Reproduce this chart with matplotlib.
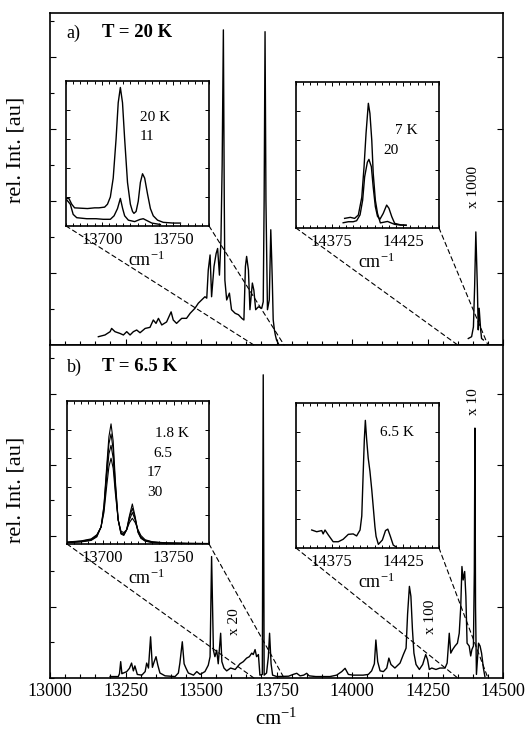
import matplotlib
matplotlib.use('Agg')
import matplotlib.pyplot as plt
from matplotlib.patches import ConnectionPatch
from matplotlib.ticker import MultipleLocator

plt.rcParams['font.family'] = ['Liberation Serif', 'DejaVu Serif']
plt.rcParams['mathtext.fontset'] = 'custom'
plt.rcParams['mathtext.rm'] = 'Liberation Serif'
plt.rcParams['mathtext.it'] = 'Liberation Serif:italic'

# ---- panel a) T = 20 K, main spectrum
a_x = [13160, 13182, 13199, 13204, 13215, 13232, 13243, 13254, 13265, 13276,
       13287, 13298, 13315, 13331, 13342, 13351, 13359, 13370, 13386, 13401,
       13408, 13419, 13436, 13452, 13464, 13480, 13491, 13502, 13513, 13519,
       13524, 13530, 13535, 13543, 13550, 13555, 13561, 13566, 13570, 13574,
       13577, 13579, 13585, 13594, 13601, 13613, 13624, 13635, 13642, 13647,
       13651, 13657, 13662, 13670, 13675, 13681, 13690, 13701, 13706, 13709,
       13712, 13715, 13720, 13726, 13729, 13731, 13734, 13736, 13739, 13743,
       13746, 13750, 13756]
a_y = [0.115, 0.139, 0.185, 0.23, 0.185, 0.16, 0.139, 0.185, 0.139, 0.185,
       0.208, 0.17, 0.23, 0.245, 0.347, 0.30, 0.37, 0.278, 0.32, 0.46,
       0.347, 0.30, 0.37, 0.37, 0.44, 0.51, 0.58, 0.625, 0.67, 0.65,
       1.04, 1.25, 0.67, 1.09, 1.27, 1.34, 0.97, 1.46, 2.5, 4.375,
       2.0, 0.9, 0.625, 0.72, 0.49, 0.44, 0.42, 0.37, 0.347, 1.09,
       1.23, 1.04, 0.49, 0.86, 0.76, 0.49, 0.53, 0.51, 0.60, 2.0,
       4.35, 2.0, 0.49, 0.625, 1.2, 1.6, 1.2, 0.9, 0.35, 0.21,
       0.14, 0.07, 0.02]
# x 1000 part
a_hi_x = [14385, 14396, 14402, 14406, 14410, 14415, 14418, 14421, 14426, 14429, 14435]
a_hi_y = [0.09, 0.115, 0.25, 0.81, 1.57, 0.81, 0.21, 0.51, 0.21, 0.09, 0.07]

# ---- panel b) T = 6.5 K, main spectrum
b_x = [13199, 13226, 13230, 13234, 13238, 13241, 13254, 13263, 13270, 13276,
       13281, 13289, 13304, 13315, 13320, 13326, 13333, 13339, 13345, 13351,
       13357, 13364, 13381, 13414, 13425, 13430, 13438, 13444, 13450, 13458,
       13475, 13486, 13497, 13513, 13524, 13530, 13535, 13541, 13546, 13552,
       13557, 13565, 13569, 13576, 13585, 13598, 13613, 13629, 13640, 13651,
       13660, 13668, 13673, 13679, 13684, 13690, 13695, 13703, 13706, 13709,
       13717, 13723, 13727, 13732, 13737, 13751, 13790, 13805, 13817, 13828,
       13840, 13850, 13858, 13880, 13927, 13949, 13966, 13977, 13988, 14004,
       14037, 14054, 14065, 14074, 14079, 14085, 14093, 14104, 14115, 14122,
       14129, 14142, 14159, 14170, 14179, 14184, 14190, 14195, 14200, 14205,
       14212, 14223, 14234, 14244, 14250, 14256, 14264, 14278, 14291, 14308,
       14315, 14322, 14327, 14333, 14341, 14349, 14355, 14360, 14364, 14368,
       14373, 14377, 14381, 14388, 14393, 14397, 14402, 14405, 14407, 14409,
       14412, 14416, 14419, 14424, 14429, 14435, 14440]
b_y = [0.02, 0.02, 0.06, 0.23, 0.06, 0.066, 0.09, 0.136, 0.21, 0.10,
       0.17, 0.05, 0.04, 0.09, 0.21, 0.14, 0.58, 0.15, 0.23, 0.30,
       0.18, 0.07, 0.03, 0.02, 0.07, 0.21, 0.51, 0.2, 0.14, 0.07,
       0.04, 0.09, 0.05, 0.09, 0.18, 0.30, 1.71, 0.39, 0.30, 0.39,
       0.2, 0.63, 0.23, 0.14, 0.1, 0.14, 0.12, 0.2, 0.23, 0.28,
       0.30, 0.35, 0.33, 0.40, 0.30, 0.33, 0.04, 0.05, 4.27, 0.04,
       0.07, 0.30, 0.63, 0.2, 0.04, 0.02, 0.025, 0.05, 0.066, 0.03,
       0.04, 0.066, 0.03, 0.02, 0.02, 0.04, 0.09, 0.136, 0.05, 0.04,
       0.04, 0.05, 0.10, 0.2, 0.535, 0.23, 0.10, 0.09, 0.14, 0.28,
       0.19, 0.14, 0.21, 0.33, 0.42, 0.9, 1.29, 1.15, 0.69, 0.35,
       0.19, 0.12, 0.19, 0.33, 0.26, 0.12, 0.14, 0.12, 0.14, 0.14,
       0.21, 0.63, 0.35, 0.4, 0.45, 0.49, 0.63, 1.0, 1.57, 1.38,
       1.5, 1.15, 0.49, 0.45, 0.31, 0.4, 0.45, 1.5, 3.52, 1.0,
       0.05, 0.3, 0.49, 0.45, 0.35, 0.14, 0.02]

# ---- inset a) left, 13675-13775
ia_x1 = [13675.5, 13677, 13679, 13681, 13690, 13695, 13698, 13702, 13704, 13706,
         13708, 13710, 13711.5, 13713, 13714.5, 13716, 13718, 13720, 13721.5, 13722.5,
         13724, 13725.5, 13727, 13728.5, 13730, 13732, 13734, 13736, 13739, 13743,
         13750, 13755]
ia_20K = [0.19, 0.19, 0.15, 0.125, 0.12, 0.125, 0.125, 0.13, 0.15, 0.2,
          0.33, 0.6, 0.85, 0.955, 0.85, 0.6, 0.3, 0.15, 0.1, 0.087,
          0.1, 0.17, 0.3, 0.36, 0.33, 0.22, 0.12, 0.07, 0.04, 0.025,
          0.02, 0.02]
ia_x2 = [13675.5, 13678, 13680, 13682.5, 13689.5, 13696, 13701, 13706, 13708.6, 13711,
         13713, 13714.6, 13716, 13718.6, 13723, 13726.7, 13729, 13732, 13735, 13741]
ia_11K = [0.18, 0.15, 0.08, 0.057, 0.05, 0.05, 0.046, 0.046, 0.07, 0.12,
          0.19, 0.12, 0.07, 0.04, 0.03, 0.045, 0.05, 0.035, 0.02, 0.01]

# ---- inset a) right, 14350-14450
ib_x1 = [14384, 14388, 14391, 14393.6, 14396, 14397.6, 14399, 14400.6, 14401.7, 14403,
         14404, 14405.5, 14407, 14409, 14411.5, 14414, 14416.5, 14419, 14423, 14427]
ib_7K = [0.066, 0.073, 0.066, 0.089, 0.21, 0.42, 0.65, 0.854, 0.785, 0.60,
         0.375, 0.19, 0.10, 0.035, 0.04, 0.045, 0.035, 0.025, 0.02, 0.02]
ib_x2 = [14383, 14386.6, 14390, 14392.4, 14394.8, 14396.6, 14398, 14399.9, 14401, 14402.7,
         14404, 14405.5, 14407, 14408.7, 14411, 14413.4, 14415, 14417, 14419, 14423, 14427]
ib_20K = [0.036, 0.043, 0.043, 0.05, 0.09, 0.19, 0.35, 0.45, 0.47, 0.42,
          0.28, 0.146, 0.08, 0.06, 0.10, 0.157, 0.135, 0.077, 0.032, 0.022, 0.018]

# ---- inset b) left, 13675-13775, four temperatures
ic_x = [13675, 13685, 13692, 13696, 13699, 13701, 13703, 13704.5, 13706, 13707.5,
        13709, 13711, 13713, 13715, 13717, 13719, 13721, 13723, 13725, 13727,
        13730, 13735, 13745, 13760, 13775]
ic_18K = [0.01, 0.015, 0.025, 0.05, 0.12, 0.27, 0.55, 0.75, 0.84, 0.72,
          0.45, 0.17, 0.07, 0.06, 0.10, 0.20, 0.28, 0.19, 0.08, 0.04,
          0.02, 0.01, 0.005, 0.003, 0.003]
ic_65K = [0.01, 0.016, 0.028, 0.055, 0.12, 0.26, 0.52, 0.70, 0.77, 0.66,
          0.42, 0.17, 0.075, 0.065, 0.10, 0.19, 0.25, 0.18, 0.085, 0.045,
          0.022, 0.012, 0.006, 0.004, 0.003]
ic_17K = [0.012, 0.02, 0.032, 0.06, 0.12, 0.24, 0.47, 0.63, 0.69, 0.60,
          0.39, 0.17, 0.08, 0.07, 0.10, 0.17, 0.22, 0.17, 0.09, 0.05,
          0.026, 0.014, 0.007, 0.004, 0.003]
ic_30K = [0.014, 0.022, 0.036, 0.065, 0.12, 0.22, 0.41, 0.54, 0.60, 0.53,
          0.36, 0.17, 0.09, 0.08, 0.10, 0.15, 0.18, 0.15, 0.10, 0.06,
          0.03, 0.016, 0.008, 0.005, 0.004]

# ---- inset b) right, 14350-14450, 6.5 K
id_x = [14361, 14364.5, 14368, 14369, 14370.3, 14372.6, 14376, 14379.6, 14383, 14386.6,
        14390, 14392.4, 14394.8, 14396, 14397, 14397.8, 14398.5, 14399.4, 14400.5, 14401.7,
        14403, 14404, 14405.2, 14406, 14407.6, 14410.4, 14412.6, 14414.2, 14416, 14418,
        14419.6]
id_y = [0.124, 0.112, 0.12, 0.097, 0.124, 0.09, 0.043, 0.043, 0.06, 0.094,
        0.097, 0.083, 0.124, 0.22, 0.52, 0.75, 0.88, 0.75, 0.62, 0.53,
        0.40, 0.285, 0.147, 0.08, 0.025, 0.055, 0.12, 0.13, 0.08, 0.02,
        0.01]

main_ticks = [13000, 13250, 13500, 13750, 14000, 14250, 14500]
lw = 1.0

fig = plt.figure(figsize=(5.26, 7.32), dpi=100)
ax_a = fig.add_axes([0.0951, 0.5287, 0.8612, 0.4536])
ax_b = fig.add_axes([0.0951, 0.0738, 0.8612, 0.4549])


def style_main(ax, ytop, show_labels):
    ax.set_xlim(13000, 14500)
    ax.set_ylim(0, ytop)
    ax.set_xticks(main_ticks)
    ax.xaxis.set_minor_locator(MultipleLocator(50))
    ax.set_yticks([1, 2, 3, 4])
    ax.yaxis.set_minor_locator(MultipleLocator(0.5))
    ax.tick_params(which='both', direction='in', top=False, right=True,
                   labelleft=False, labelbottom=show_labels, labelsize=13, width=0.8)
    ax.tick_params(which='major', length=4)
    ax.tick_params(which='minor', length=3, right=False)
    for s in ax.spines.values():
        s.set_linewidth(1.2)


style_main(ax_a, 4.61, False)
style_main(ax_b, 4.69, True)

ax_a.plot(a_x, a_y, color='black', lw=lw)
ax_a.plot(a_hi_x, a_hi_y, color='black', lw=lw)
ax_b.plot(b_x, b_y, color='black', lw=lw)

ax_a.set_ylabel('rel. Int. [au]', fontsize=16)
ax_a.yaxis.set_label_coords(-0.055, 0.587)
ax_b.set_ylabel('rel. Int. [au]', fontsize=16)
ax_b.yaxis.set_label_coords(-0.055, 0.565)
ax_b.set_xlabel(r'cm$^{-1}$', fontsize=15, labelpad=6)

ax_a.text(0.037, 0.94, 'a)', transform=ax_a.transAxes, fontsize=13, va='center')
ax_a.text(0.115, 0.94, 'T = 20 K', transform=ax_a.transAxes, fontsize=13.5,
          fontweight='bold', va='center')
ax_b.text(0.037, 0.934, 'b)', transform=ax_b.transAxes, fontsize=13, va='center')
ax_b.text(0.115, 0.934, 'T = 6.5 K', transform=ax_b.transAxes, fontsize=13.5,
          fontweight='bold', va='center')

ax_a.text(0.934, 0.476, 'x 1000', transform=ax_a.transAxes, fontsize=11,
          rotation=90, ha='center', va='center')
ax_b.text(0.408, 0.168, 'x 20', transform=ax_b.transAxes, fontsize=11,
          rotation=90, ha='center', va='center')
ax_b.text(0.839, 0.183, 'x 100', transform=ax_b.transAxes, fontsize=11,
          rotation=90, ha='center', va='center')
ax_b.text(0.934, 0.829, 'x 10', transform=ax_b.transAxes, fontsize=11,
          rotation=90, ha='center', va='center')

# insets
in_a1 = fig.add_axes([0.1255, 0.6913, 0.2719, 0.1981])
in_a2 = fig.add_axes([0.5627, 0.6885, 0.2719, 0.1995])
in_b1 = fig.add_axes([0.1274, 0.2568, 0.2700, 0.1954])
in_b2 = fig.add_axes([0.5627, 0.2514, 0.2719, 0.1981])


def style_inset(ax, x0, x1, ticks):
    ax.set_xlim(x0, x1)
    ax.set_ylim(0, 1)
    ax.set_xticks(ticks)
    ax.xaxis.set_minor_locator(MultipleLocator(5))
    ax.set_yticks([0.2, 0.4, 0.6, 0.8])
    ax.tick_params(which='both', direction='in', top=True, right=True,
                   labelleft=False, labelsize=12, width=0.7, pad=4)
    ax.tick_params(which='major', length=3)
    ax.tick_params(which='minor', length=2)
    ax.set_xlabel(r'cm$^{-1}$', fontsize=13, labelpad=0)
    ax.xaxis.set_label_coords(0.56, -0.17)
    for s in ax.spines.values():
        s.set_linewidth(1.2)


style_inset(in_a1, 13675, 13775, [13700, 13750])
style_inset(in_a2, 14350, 14450, [14375, 14425])
style_inset(in_b1, 13675, 13775, [13700, 13750])
style_inset(in_b2, 14350, 14450, [14375, 14425])

in_a1.plot(ia_x1, ia_20K, color='black', lw=lw)
in_a1.plot(ia_x2, ia_11K, color='black', lw=lw)
in_a1.text(0.517, 0.745, '20 K', transform=in_a1.transAxes, fontsize=11, va='center')
in_a1.text(0.517, 0.614, '11', transform=in_a1.transAxes, fontsize=11, va='center')

in_a2.plot(ib_x1, ib_7K, color='black', lw=lw)
in_a2.plot(ib_x2, ib_20K, color='black', lw=lw)
in_a2.text(0.692, 0.671, '7 K', transform=in_a2.transAxes, fontsize=11, va='center')
in_a2.text(0.608, 0.534, '20', transform=in_a2.transAxes, fontsize=11, va='center')

for yy in [ic_18K, ic_65K, ic_17K, ic_30K]:
    in_b1.plot(ic_x, yy, color='black', lw=0.8)
in_b1.text(0.62, 0.776, '1.8 K', transform=in_b1.transAxes, fontsize=11, va='center')
in_b1.text(0.606, 0.636, '6.5', transform=in_b1.transAxes, fontsize=11, va='center')
in_b1.text(0.563, 0.497, '17', transform=in_b1.transAxes, fontsize=11, va='center')
in_b1.text(0.563, 0.357, '30', transform=in_b1.transAxes, fontsize=11, va='center')

in_b2.plot(id_x, id_y, color='black', lw=lw)
in_b2.text(0.587, 0.793, '6.5 K', transform=in_b2.transAxes, fontsize=11, va='center')

# dashed lines from inset corners down to the zoomed range
for ins, ax, x0, x1 in [(in_a1, ax_a, 13675, 13775), (in_a2, ax_a, 14350, 14450),
                        (in_b1, ax_b, 13675, 13775), (in_b2, ax_b, 14350, 14450)]:
    for corner, xd in [((0, 0), x0), ((1, 0), x1)]:
        con = ConnectionPatch(xyA=corner, coordsA='axes fraction', axesA=ins,
                              xyB=(xd, 0), coordsB='data', axesB=ax,
                              linestyle=(0, (4, 3)), lw=0.8, color='black')
        fig.add_artist(con)

plt.savefig('out.png', dpi=100)
